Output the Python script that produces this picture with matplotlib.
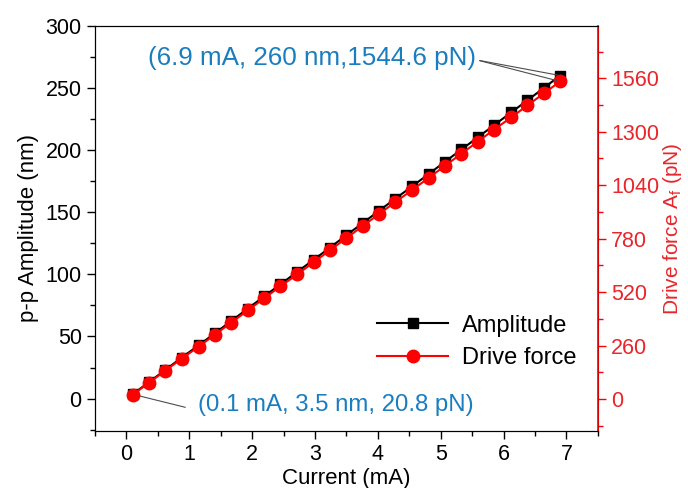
from matplotlib import pyplot as plt
from matplotlib.ticker import MultipleLocator
import matplotlib

matplotlib.rcParams['font.family'] = ['Liberation Sans', 'DejaVu Sans']

current = [0.10, 0.36, 0.62, 0.88, 1.15, 1.41, 1.67, 1.93, 2.19, 2.45, 2.72, 2.98, 3.24, 3.50,
           3.76, 4.02, 4.28, 4.55, 4.81, 5.07, 5.33, 5.59, 5.85, 6.12, 6.38, 6.64, 6.90]
amplitude = [3.5, 13.3, 23.1, 33.0, 42.9, 52.7, 62.5, 72.4, 82.2, 92.0, 102.1, 111.8, 121.6, 131.5,
             141.3, 151.2, 161.0, 171.0, 180.8, 190.7, 200.5, 210.3, 220.1, 230.3, 240.1, 250.0, 260.0]
force = [20.8, 79.5, 138.0, 196.5, 255.0, 313.8, 372.0, 430.8, 489.5, 548.0, 606.8, 665.5, 724.0, 782.8,
         841.5, 900.0, 958.8, 1017.5, 1076.0, 1134.8, 1193.5, 1252.0, 1310.8, 1369.5, 1428.0, 1486.5, 1544.6]

top_label = '(6.9 mA, 260 nm,1544.6 pN)'
bottom_label = '(0.1 mA, 3.5 nm, 20.8 pN)'

blue = '#1a7dc0'
red = '#ff0000'
red_text = '#e8262b'

fig = plt.figure(figsize=(6.88, 4.88), dpi=100)
ax = fig.add_axes([0.138, 0.117, 0.731, 0.830])
ax2 = ax.twinx()

l1, = ax.plot(current, amplitude, color='black', lw=1.5, marker='s', ms=7, label='Amplitude')
l2, = ax2.plot(current, force, color=red, lw=1.5, marker='o', ms=9, label='Drive force')

ax.set_xlim(-0.5, 7.5)
ax.set_ylim(-26, 300)
ax2.set_ylim(-155, 1815)

ax.xaxis.set_major_locator(MultipleLocator(1))
ax.xaxis.set_minor_locator(MultipleLocator(0.5))
ax.yaxis.set_major_locator(MultipleLocator(50))
ax.yaxis.set_minor_locator(MultipleLocator(25))
ax2.yaxis.set_major_locator(MultipleLocator(260))
ax2.yaxis.set_minor_locator(MultipleLocator(130))

ax.tick_params(which='both', direction='out', labelsize=15.5, top=False)
ax.tick_params(which='major', length=6, width=1)
ax.tick_params(which='minor', length=3.5, width=1)
ax2.tick_params(which='both', direction='out', labelsize=15.5, colors=red, labelcolor=red_text)
ax2.tick_params(which='major', length=6, width=1)
ax2.tick_params(which='minor', length=3.5, width=1)
ax2.spines['right'].set_color(red)
ax2.spines['right'].set_linewidth(1.2)

ax.set_xlabel('Current (mA)', fontsize=16, labelpad=2)
ax.set_ylabel('p-p Amplitude (nm)', fontsize=16, labelpad=5)
ax2.set_ylabel(r'Drive force A$_{\mathregular{f}}$ (pN)', fontsize=15, color=red_text, labelpad=1)

ax2.legend([l1, l2], ['Amplitude', 'Drive force'], loc='lower right', frameon=False,
           fontsize=17, handlelength=3.0, handletextpad=0.6, labelspacing=0.45,
           bbox_to_anchor=(1.0, 0.1))

fig.text(0.215, 0.881, top_label, color=blue, fontsize=18.7, ha='left', va='center')
fig.text(0.288, 0.170, bottom_label, color=blue, fontsize=17.3, ha='left', va='center')

line = dict(arrowstyle='-', color='0.3', lw=0.8)
ax.annotate('', xy=(current[-1], amplitude[-1]), xytext=(477, 428), textcoords='figure pixels', arrowprops=line)
ax2.annotate('', xy=(current[-1], force[-1]), xytext=(477, 428), textcoords='figure pixels', arrowprops=line)
ax.annotate('', xy=(current[0], amplitude[0]), xytext=(188, 80), textcoords='figure pixels', arrowprops=line)

fig.savefig('out.png', dpi=100)
